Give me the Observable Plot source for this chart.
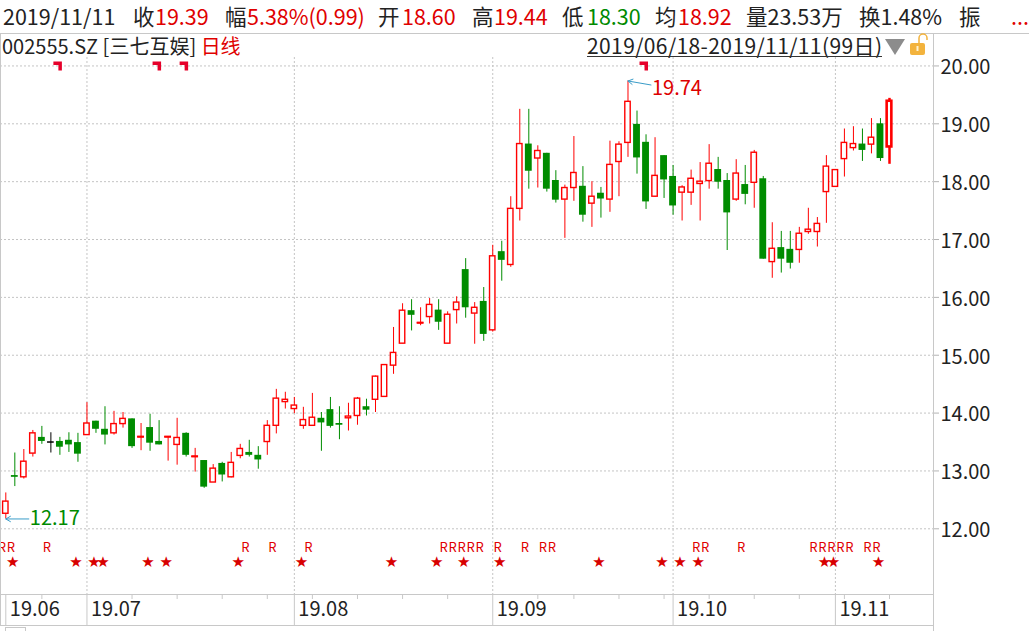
<!DOCTYPE html>
<html><head><meta charset="utf-8">
<script src="https://cdn.jsdelivr.net/npm/d3@7"></script>
<script src="https://cdn.jsdelivr.net/npm/@observablehq/plot@0.6"></script>
<style>
body{margin:0;background:#fff;}
#wrap{position:relative;width:1029px;height:631px;overflow:hidden;background:#fff;font-family:"Noto Sans CJK SC","Noto Sans",sans-serif;}
.ln{position:absolute;background:#c8c8c8;}
#chart{position:absolute;left:0;top:33px;}
#head{position:absolute;left:0;top:0;}
</style></head><body>
<div id="wrap">
<svg id="head" width="1029" height="64" font-family="'Noto Sans CJK SC','Noto Sans',sans-serif">
  <line x1="0" x2="1029" y1="33.5" y2="33.5" stroke="#c8c8c8"/>
  <g font-size="21.5" id="line1"></g>
  <text x="2" y="54" font-size="20" fill="#222">002555.SZ [三七互娱] <tspan fill="#e00000">日线</tspan></text>
  <text x="882" y="54" font-size="21" fill="#222" text-anchor="end" textLength="295" lengthAdjust="spacing">2019/06/18-2019/11/11(99日)</text>
  <line x1="587" x2="882" y1="56.5" y2="56.5" stroke="#333"/>
  <polygon points="885,39 905,39 895,55" fill="#8c8c8c"/>
  <rect x="910" y="43" width="15" height="12" rx="2" fill="#f3b33d"/>
  <rect x="916.5" y="46" width="2" height="5" fill="#fff3d0"/>
  <path d="M919,43 V38 A4,4 0 0 1 927,38 V40" stroke="#f3b33d" stroke-width="1.5" fill="none"/>
</svg>
<div id="chart"></div>
<div class="ln" style="left:933px;top:33px;width:1px;height:598px;"></div>
<div class="ln" style="left:0px;top:33px;width:1px;height:593px;"></div>
<div class="ln" style="left:0px;top:625px;width:933px;height:1px;"></div>
<div style="position:absolute;left:5px;top:627px;width:19px;height:6px;border:1px solid #c8c8c8;"></div>
</div>
<script>
// trading calendar (2019)
const junDays = [18,19,20,21,24,25,26,27,28];
const julDays = [1,2,3,4,5,8,9,10,11,12,15,16,17,18,19,22,23,24,25,26,29,30,31];
const augDays = [1,2,5,6,7,8,9,12,13,14,15,16,19,20,21,22,23,26,27,28,29,30];
const sepDays = [2,3,4,5,6,9,10,11,12,16,17,18,19,20,23,24,25,26,27,30];
const octDays = [8,9,10,11,14,15,16,17,18,21,22,23,24,25,28,29,30,31];
const novDays = [1,4,5,6,7,8,11];

const opens = [12.26,12.92,12.89,13.30,13.58,13.50,13.51,13.53,13.49,13.62,
13.86,13.72,13.65,13.81,13.90,13.58,13.75,13.51,13.58,13.45,
13.65,13.24,13.18,12.80,13.13,12.89,13.26,13.32,13.27,13.50,
13.78,14.19,14.07,13.78,13.78,13.91,14.06,13.82,13.91,13.95,
14.11,14.23,14.28,14.82,15.20,15.77,15.55,15.66,15.78,15.20,
15.78,16.48,15.72,15.93,15.43,16.79,16.56,17.53,18.65,18.40,
18.49,18.02,17.69,17.89,17.92,17.62,17.80,17.69,18.34,18.67,
18.99,18.68,17.74,18.45,18.09,17.81,17.81,17.96,18.01,18.21,
18.02,17.69,17.95,17.98,18.05,16.61,16.86,16.83,16.82,17.13,
17.13,17.82,17.91,18.39,18.58,18.65,18.64,19.00,18.60];
const highs = [12.62,13.31,13.37,13.70,13.77,13.66,13.58,13.66,13.65,14.18,
13.86,14.11,14.03,14.01,13.90,13.82,13.98,13.87,13.59,13.91,
13.66,13.39,13.18,13.11,13.15,13.32,13.46,13.53,13.42,13.87,
14.41,14.36,14.27,14.10,14.34,14.01,14.27,14.11,14.17,14.27,
14.24,14.64,14.84,15.48,15.89,15.96,15.82,15.98,15.96,15.75,
16.01,16.67,15.91,16.17,16.90,16.97,17.74,19.25,19.25,18.62,
18.49,18.19,17.94,18.78,18.26,18.00,17.90,18.70,18.69,19.74,
19.22,18.81,18.76,18.45,18.28,17.93,18.20,18.33,18.64,18.42,
18.14,18.38,18.28,18.54,18.09,17.29,17.14,17.14,17.21,17.54,
17.38,18.45,18.21,18.91,18.95,18.91,19.09,19.09,19.44];
const lows = [12.17,12.73,12.86,13.24,13.46,13.31,13.27,13.32,13.15,13.62,
13.65,13.45,13.62,13.74,13.39,13.35,13.34,13.45,13.17,13.10,
13.24,12.98,12.70,12.80,12.81,12.88,13.21,13.24,13.03,13.27,
13.64,14.07,13.99,13.72,13.78,13.34,13.74,13.54,13.69,13.79,
13.95,14.01,14.27,14.67,15.20,15.42,15.51,15.54,15.43,15.20,
15.54,15.64,15.19,15.24,15.40,16.28,16.52,17.32,17.87,17.89,
17.82,17.63,17.02,17.66,17.30,17.21,17.37,17.47,17.74,18.42,
18.13,17.52,17.73,17.71,17.42,17.32,17.59,17.32,17.87,17.87,
16.81,17.66,17.60,17.54,16.66,16.33,16.42,16.49,16.59,17.09,
16.87,17.28,17.91,18.08,18.53,18.35,18.48,18.35,18.30];
const closes = [12.47,12.89,13.16,13.65,13.51,13.50,13.41,13.45,13.29,13.82,
13.72,13.62,13.81,13.90,13.42,13.59,13.48,13.45,13.59,13.57,
13.27,13.25,12.72,13.04,12.93,13.14,13.38,13.27,13.19,13.78,
14.25,14.23,14.13,13.88,13.92,13.83,13.77,13.79,13.94,14.25,
14.05,14.63,14.83,15.04,15.77,15.69,15.56,15.87,15.57,15.70,
15.91,15.82,15.82,15.36,16.71,16.64,17.53,18.65,18.18,18.53,
17.87,17.68,17.89,18.15,17.42,17.74,17.70,18.29,18.64,19.38,
18.41,17.65,18.10,18.03,17.58,17.90,18.05,18.00,18.31,17.99,
17.46,18.14,17.78,18.50,16.66,16.84,16.66,16.59,17.10,17.17,
17.27,18.26,18.20,18.67,18.65,18.54,18.76,18.40,19.39];

const yTicks = [12,13,14,15,16,17,18,19,20];
const topMarkIdx = [5,16,19,70];
const rIdx = [-1,0,4,26,29,33,48,49,50,51,52,54,57,59,60,76,77,81,89,90,91,92,93,95,96];
const starIdx = [0,7,9,10,15,17,25,32,42,47,50,54,65,72,74,76,90,91,96];

const headerItems = [
  [3,"2019/11/11","d"],[133,"收","d"],[155,"19.39","r"],[225,"幅","d"],[247,"5.38%(0.99)","r"],
  [378,"开","d"],[402,"18.60","r"],[472,"高","d"],[494,"19.44","r"],[562,"低","d"],[587,"18.30","g"],
  [655,"均","d"],[678,"18.92","r"],[746,"量23.53万","d"],[859,"换1.48%","d"],[959,"振","d"],[1011,"...","r"]
];
const hcol = {d:"#222", r:"#e00000", g:"#008a00"};
const g1 = document.getElementById("line1");
headerItems.forEach(([x,t,c])=>{
  const el = document.createElementNS("http://www.w3.org/2000/svg","text");
  el.setAttribute("x",x); el.setAttribute("y",25); el.setAttribute("fill",hcol[c]);
  el.textContent = t; g1.appendChild(el);
});

// build dates
const dates = [];
[[6,junDays],[7,julDays],[8,augDays],[9,sepDays],[10,octDays],[11,novDays]].forEach(([m,ds])=>ds.forEach(d=>dates.push(new Date(2019,m-1,d))));
const monthIdx = dates.map((d,i)=>i).filter(i=>i===0 || dates[i].getMonth()!==dates[i-1].getMonth());
const gridIdx = monthIdx.filter(i=>i>0);
const mondayIdx = dates.map((d,i)=>i).filter(i=>dates[i].getDay()===1 && !monthIdx.includes(i));
const monthLabel = i => "19." + String(dates[i].getMonth()+1).padStart(2,"0");

const candles = opens.map((o,i)=>({i, open:o, high:highs[i], low:lows[i], close:closes[i]}));
const RED="#ff0000", GREEN="#008c00", BLACK="#000000";
const col = d => d.close > d.open ? RED : d.close < d.open ? GREEN : BLACK;
const sel = candles.length - 1;
const up = candles.filter(d=>d.close>d.open && d.i!==sel);
const down = candles.filter(d=>d.close<d.open);
const flat = candles.filter(d=>Math.abs(d.close-d.open)<0.015);
const last = candles.filter(d=>d.i===sel && d.close>d.open);
const iMin = d3.minIndex(lows), iMax = d3.maxIndex(highs);
const pxIdx = (889.0-5.3)/98, pxY = 57.86;

const flag = {draw(ctx){ ctx.moveTo(-4.5,-4.5); ctx.lineTo(4,-4.5); ctx.lineTo(4,4.5); ctx.lineTo(0.5,4.5); ctx.lineTo(0.5,-1); ctx.lineTo(-4.5,-1); ctx.closePath(); }};

const chart = Plot.plot({
  width:1029, height:598, marginTop:24, marginBottom:37, marginLeft:0, marginRight:96,
  x:{domain:[0,98], range:[5.3,889.0], axis:null, label:null},
  y:{domain:[10.8645,20.146], axis:null, label:null},
  style:{fontFamily:"'Noto Sans CJK SC','Noto Sans',sans-serif", background:"transparent"},
  marks:[
    Plot.ruleY(yTicks,{stroke:"#c4c4c4", strokeDasharray:"2,2"}),
    Plot.ruleX(gridIdx,{stroke:"#c4c4c4", strokeDasharray:"2,2"}),
    Plot.frame({anchor:"bottom", stroke:"#c8c8c8"}),
    Plot.axisX(monthIdx,{anchor:"bottom", tickSize:31, tickFormat:()=>"", stroke:"#c8c8c8", label:null}),
    Plot.axisX(mondayIdx,{anchor:"bottom", tickSize:5, tickFormat:()=>"", stroke:"#c8c8c8", label:null}),
    Plot.text(monthIdx,{x:d=>d, text:monthLabel, frameAnchor:"bottom", dy:15, dx:4, textAnchor:"start", lineAnchor:"middle", fontSize:20, fill:"#222"}),
    Plot.axisY(yTicks,{anchor:"right", tickSize:5, tickFormat:()=>"", stroke:"#b4b4b4", label:null}),
    Plot.text(yTicks,{y:d=>d, text:d=>d.toFixed(2), frameAnchor:"right", dx:7, dy:2, textAnchor:"start", lineAnchor:"middle", fontSize:20, fill:"#222"}),
    Plot.dot(topMarkIdx,{x:d=>d, frameAnchor:"top", dx:7, dy:8.5, symbol:flag, r:4, fill:"#e6002a", stroke:"none"}),
    Plot.text(rIdx,{x:d=>d, text:()=>"R", frameAnchor:"bottom", dy:-46.5, dx:5, fontSize:13, fill:"#e00000", lineAnchor:"middle"}),
    Plot.text(starIdx,{x:d=>d, text:()=>"★", frameAnchor:"bottom", dy:-32, dx:7, fontSize:15, fill:"#d80000", lineAnchor:"middle", fontFamily:"DejaVu Sans"}),
    Plot.ruleX(candles,{x:"i", y1:"low", y2:"high", stroke:col, strokeWidth:d=>d.i===sel?2.5:1}),
    Plot.rect(down,{x1:d=>d.i-0.38, x2:d=>d.i+0.38, y1:"open", y2:"close", fill:GREEN}),
    Plot.rect(up,{x1:d=>d.i-0.3, x2:d=>d.i+0.3, y1:"open", y2:"close", fill:"white", stroke:RED, strokeWidth:1.4}),
    Plot.ruleY(flat,{x1:d=>d.i-0.37, x2:d=>d.i+0.37, y:"close", stroke:col, strokeWidth:1.5}),
    Plot.rect(last,{x1:d=>d.i-0.26, x2:d=>d.i+0.26, y1:"open", y2:"close", fill:"white", stroke:RED, strokeWidth:2.6}),
    Plot.arrow([iMin],{x1:d=>d+23/pxIdx, y1:d=>lows[d], x2:d=>d, y2:d=>lows[d], stroke:"#3a9cc8", strokeWidth:1, headLength:8}),
    Plot.text([iMin],{x:d=>d, y:d=>lows[d], text:d=>lows[d].toFixed(2), dx:24, textAnchor:"start", lineAnchor:"middle", fontSize:20, fill:"#008a00"}),
    Plot.arrow([iMax],{x1:d=>d+23/pxIdx, y1:d=>highs[d]-4/pxY, x2:d=>d, y2:d=>highs[d], stroke:"#3a9cc8", strokeWidth:1, headLength:8}),
    Plot.text([iMax],{x:d=>d, y:d=>highs[d], text:d=>highs[d].toFixed(2), dx:24, dy:8, textAnchor:"start", lineAnchor:"middle", fontSize:20, fill:"#dd0000"})
  ]
});
document.getElementById("chart").appendChild(chart);
</script>
</body></html>
